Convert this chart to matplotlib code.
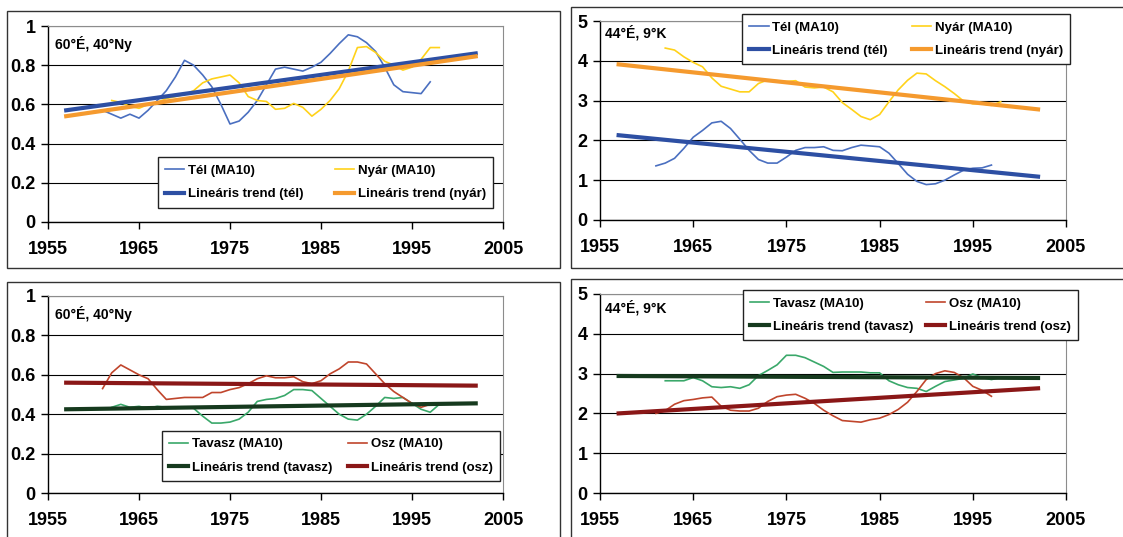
import matplotlib
matplotlib.use("Agg")
import matplotlib.pyplot as plt
from matplotlib.patches import Rectangle

plt.rcParams['font.family'] = ['Liberation Sans', 'DejaVu Sans']
plt.rcParams['font.weight'] = 'bold'

# --- data ---
years_tel = list(range(1961, 1998))
years_nyar = list(range(1962, 1999))
years_tav = list(range(1962, 1999))
years_osz = list(range(1961, 1998))
trend_years = [1957, 2002]

# 60°É, 40°Ny  winter / summer
nw_tel = [0.57, 0.55, 0.53, 0.55, 0.53, 0.57, 0.62, 0.67, 0.74, 0.825,
          0.80, 0.75, 0.69, 0.60, 0.50, 0.515, 0.56, 0.62, 0.70, 0.78,
          0.79, 0.78, 0.77, 0.79, 0.815, 0.86, 0.91, 0.955, 0.945, 0.915,
          0.87, 0.79, 0.70, 0.665, 0.66, 0.655, 0.715]
nw_nyar = [0.62, 0.61, 0.59, 0.58, 0.60, 0.61, 0.63, 0.64, 0.65, 0.67,
           0.71, 0.73, 0.74, 0.75, 0.71, 0.64, 0.62, 0.615, 0.575, 0.58,
           0.605, 0.585, 0.54, 0.575, 0.62, 0.68, 0.77, 0.89, 0.895, 0.865,
           0.82, 0.80, 0.775, 0.79, 0.83, 0.89, 0.89]
nw_trend_tel = [0.57, 0.86]
nw_trend_nyar = [0.54, 0.845]

# 44°É, 9°K  winter / summer
ne_tel = [1.36, 1.43, 1.55, 1.80, 2.08, 2.25, 2.44, 2.48, 2.30, 2.03,
          1.75, 1.52, 1.43, 1.43, 1.58, 1.75, 1.82, 1.82, 1.84, 1.75,
          1.74, 1.82, 1.88, 1.86, 1.84, 1.68, 1.42, 1.15, 0.97, 0.89,
          0.91, 1.00, 1.13, 1.25, 1.30, 1.31, 1.38]
ne_nyar = [4.32, 4.27, 4.10, 3.96, 3.85, 3.57, 3.36, 3.29, 3.22, 3.22,
           3.43, 3.52, 3.50, 3.48, 3.50, 3.34, 3.32, 3.34, 3.22, 2.95,
           2.78, 2.60, 2.52, 2.65, 2.97, 3.27, 3.51, 3.69, 3.67, 3.50,
           3.35, 3.18, 2.99, 2.92, 2.92, 2.88, 2.97]
ne_trend_tel = [2.13, 1.09]
ne_trend_nyar = [3.91, 2.78]

# 60°É, 40°Ny  spring / autumn
sw_tav = [0.435, 0.45, 0.435, 0.44, 0.43, 0.44, 0.435, 0.43, 0.435, 0.43,
          0.39, 0.355, 0.355, 0.36, 0.375, 0.41, 0.465, 0.475, 0.48, 0.495,
          0.525, 0.525, 0.52, 0.48, 0.44, 0.40, 0.375, 0.37, 0.40, 0.44,
          0.485, 0.48, 0.485, 0.455, 0.425, 0.41, 0.45]
sw_osz = [0.53, 0.61, 0.65, 0.625, 0.60, 0.58, 0.525, 0.475, 0.48, 0.485,
          0.485, 0.485, 0.51, 0.51, 0.525, 0.535, 0.555, 0.58, 0.595, 0.585,
          0.585, 0.59, 0.565, 0.555, 0.57, 0.605, 0.63, 0.665, 0.665, 0.655,
          0.605, 0.555, 0.515, 0.485, 0.455, 0.435, 0.45]
sw_trend_tav = [0.425, 0.455]
sw_trend_osz = [0.56, 0.545]

# 44°É, 9°K  spring / autumn
se_tav = [2.82, 2.82, 2.82, 2.90, 2.82, 2.67, 2.65, 2.67, 2.63, 2.72,
          2.95, 3.08, 3.22, 3.46, 3.46, 3.40, 3.29, 3.18, 3.03, 3.04,
          3.04, 3.04, 3.02, 3.02, 2.82, 2.72, 2.65, 2.63, 2.55, 2.68,
          2.80, 2.84, 2.88, 2.99, 2.90, 2.85, 2.90]
se_osz = [2.00, 2.07, 2.23, 2.32, 2.35, 2.39, 2.41, 2.18, 2.08, 2.06,
          2.06, 2.13, 2.30, 2.42, 2.46, 2.48, 2.38, 2.25, 2.08, 1.94,
          1.82, 1.80, 1.78, 1.84, 1.88, 1.97, 2.10, 2.28, 2.55, 2.85,
          3.00, 3.07, 3.03, 2.90, 2.68, 2.58, 2.43]
se_trend_tav = [2.94, 2.89]
se_trend_osz = [2.00, 2.63]

x_ticks = [1955, 1965, 1975, 1985, 1995, 2005]

c_tel, c_tel_tr = '#4a6fc0', '#2d4fa3'
c_nyar, c_nyar_tr = '#ffd21a', '#f59a2e'
c_tav, c_tav_tr = '#3aa86a', '#163a1e'
c_osz, c_osz_tr = '#c0452c', '#8a1717'

W, H = 1123, 537
fig = plt.figure(figsize=(W / 100, H / 100), dpi=100)

# panel frames (pixel boxes)
for x0, y0, x1, y1 in [(7, 11, 560, 268), (571, 7, 1130, 268),
                       (7, 282, 560, 545), (571, 279, 1130, 545)]:
    fig.add_artist(Rectangle((x0 / W, 1 - y1 / H), (x1 - x0) / W, (y1 - y0) / H,
                             transform=fig.transFigure, fill=False,
                             edgecolor='#333333', linewidth=1.0))


def panel(rect, ymax, ystep, label, lab_xy, series, leg_box):
    ax = fig.add_axes(rect)
    for yrs, vals, col, lw, name in series:
        ax.plot(yrs, vals, color=col, linewidth=lw, label=name)
    ax.set_xlim(1955, 2005)
    ax.set_ylim(0, ymax)
    ax.set_xticks(x_ticks)
    ticks = [i * ystep for i in range(int(round(ymax / ystep)) + 1)]
    ax.set_yticks(ticks)
    ax.set_yticklabels(['%g' % t for t in ticks])
    ax.grid(axis='y', color='black', linewidth=0.8)
    ax.set_axisbelow(True)
    for s in ['top', 'right']:
        ax.spines[s].set_color('#8c8c8c')
    for s in ['left', 'bottom']:
        ax.spines[s].set_color('black')
        ax.spines[s].set_linewidth(1.0)
    ax.tick_params(axis='both', direction='out', length=5, width=1,
                   labelsize=13, pad=4)
    ax.tick_params(axis='x', pad=9)
    for t in ax.get_xticklabels() + ax.get_yticklabels():
        t.set_fontweight('bold')
    ax.text(lab_xy[0], lab_xy[1], label, transform=ax.transAxes,
            fontsize=10, fontweight='bold', va='center', ha='left')
    h, l = ax.get_legend_handles_labels()
    order = [0, 2, 1, 3]
    leg = ax.legend([h[i] for i in order], [l[i] for i in order], ncol=2,
                    loc='upper left', bbox_to_anchor=leg_box, mode='expand',
                    fancybox=False, framealpha=1, edgecolor='#222222',
                    handlelength=1.45, handletextpad=0.3,
                    borderaxespad=0, labelspacing=0.85, borderpad=0.55,
                    prop={'weight': 'bold', 'size': 9.5})
    leg.get_frame().set_linewidth(1.0)
    return ax


panel([48 / W, 1 - 222 / H, 455 / W, 196 / H], 1, 0.2, '60°É, 40°Ny', (0.015, 0.91),
      [(years_tel, nw_tel, c_tel, 1.2, 'Tél (MA10)'),
       (years_nyar, nw_nyar, c_nyar, 1.2, 'Nyár (MA10)'),
       (trend_years, nw_trend_tel, c_tel_tr, 3, 'Lineáris trend (tél)'),
       (trend_years, nw_trend_nyar, c_nyar_tr, 3, 'Lineáris trend (nyár)')],
      (0.242, 0.33, 0.736, 0))

panel([600 / W, 1 - 220 / H, 466 / W, 199 / H], 5, 1, '44°É, 9°K', (0.01, 0.94),
      [(years_tel, ne_tel, c_tel, 1.2, 'Tél (MA10)'),
       (years_nyar, ne_nyar, c_nyar, 1.2, 'Nyár (MA10)'),
       (trend_years, ne_trend_tel, c_tel_tr, 3, 'Lineáris trend (tél)'),
       (trend_years, ne_trend_nyar, c_nyar_tr, 3, 'Lineáris trend (nyár)')],
      (0.305, 1.035, 0.704, 0))

panel([48 / W, 1 - 493 / H, 455 / W, 197 / H], 1, 0.2, '60°É, 40°Ny', (0.015, 0.91),
      [(years_tav, sw_tav, c_tav, 1.2, 'Tavasz (MA10)'),
       (years_osz, sw_osz, c_osz, 1.2, 'Osz (MA10)'),
       (trend_years, sw_trend_tav, c_tav_tr, 3, 'Lineáris trend (tavasz)'),
       (trend_years, sw_trend_osz, c_osz_tr, 3, 'Lineáris trend (osz)')],
      (0.2505, 0.315, 0.743, 0))

panel([600 / W, 1 - 493 / H, 466 / W, 199 / H], 5, 1, '44°É, 9°K', (0.01, 0.93),
      [(years_tav, se_tav, c_tav, 1.2, 'Tavasz (MA10)'),
       (years_osz, se_osz, c_osz, 1.2, 'Osz (MA10)'),
       (trend_years, se_trend_tav, c_tav_tr, 3, 'Lineáris trend (tavasz)'),
       (trend_years, se_trend_osz, c_osz_tr, 3, 'Lineáris trend (osz)')],
      (0.307, 1.02, 0.719, 0))

fig.savefig('out.png', dpi=100)
